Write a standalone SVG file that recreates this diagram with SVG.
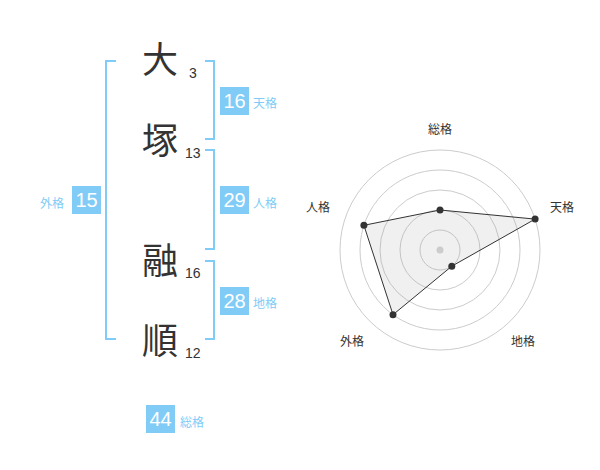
<svg xmlns="http://www.w3.org/2000/svg" width="600" height="470" viewBox="0 0 600 470">
<style>
.ch{font-family:"Noto Sans CJK JP","Noto Sans CJK SC",sans-serif;font-size:36px;fill:#333;text-anchor:middle}
.st{font-family:"Liberation Sans",Arial,sans-serif;font-size:14px;fill:#333}
.br{fill:none;stroke:#80ccf7;stroke-width:2}
.box{fill:#80ccf7}
.num{font-family:"Liberation Sans",Arial,sans-serif;font-size:20px;fill:#fff;text-anchor:middle}
.lb{font-family:"Noto Sans CJK JP","Noto Sans CJK SC",sans-serif;font-size:12px;fill:#80ccf7}
.ring{fill:none;stroke:#ccc;stroke-width:1}
.ax{font-family:"Noto Sans CJK JP","Noto Sans CJK SC",sans-serif;font-size:12px;fill:#333;text-anchor:middle}
.dot{fill:#333}
</style>
<rect width="600" height="470" fill="#fff"/>
<g id="name">
<g id="c1"><text class="ch" x="160" y="73">大</text><text class="st" x="189" y="78">3</text></g>
<g id="c2"><text class="ch" x="160" y="154">塚</text><text class="st" x="185" y="158">13</text></g>
<g id="c3"><text class="ch" x="160" y="274">融</text><text class="st" x="185" y="278">16</text></g>
<g id="c4"><text class="ch" x="160" y="354">順</text><text class="st" x="185" y="358">12</text></g>
</g>
<g id="connectors">
<path class="br" d="M116,61 H106 V339 H116"/>
<path class="br" d="M205,61 H214 V139 H205"/>
<path class="br" d="M205,150 H214 V249 H205"/>
<path class="br" d="M205,261 H214 V339 H205"/>
</g>
<g id="tenkaku"><rect class="box" x="220" y="87" width="29" height="28"/><text class="num" x="234.5" y="108">16</text><text class="lb" x="253" y="108">天格</text></g>
<g id="jinkaku"><rect class="box" x="220" y="186" width="29" height="28"/><text class="num" x="234.5" y="207">29</text><text class="lb" x="253" y="208">人格</text></g>
<g id="chikaku"><rect class="box" x="220" y="287" width="29" height="28"/><text class="num" x="234.5" y="308">28</text><text class="lb" x="253" y="308">地格</text></g>
<g id="gaikaku"><rect class="box" x="72" y="186" width="29" height="28"/><text class="num" x="86.5" y="207">15</text><text class="lb" x="40" y="208">外格</text></g>
<g id="soukaku"><rect class="box" x="146" y="405" width="29" height="28"/><text class="num" x="160.5" y="426">44</text><text class="lb" x="180" y="427">総格</text></g>
<g id="radar">
<circle class="ring" cx="440" cy="250" r="20"/>
<circle class="ring" cx="440" cy="250" r="40"/>
<circle class="ring" cx="440" cy="250" r="60"/>
<circle class="ring" cx="440" cy="250" r="80"/>
<circle class="ring" cx="440" cy="250" r="100"/>
<polygon points="440,210 535.1,219.1 451.8,266.2 393,314.7 363.9,225.3" fill="#999" fill-opacity="0.15" stroke="#333" stroke-width="1"/>
<circle cx="440" cy="250" r="3.5" fill="#ccc"/>
<circle class="dot" cx="440" cy="210" r="3.5"/>
<circle class="dot" cx="535.1" cy="219.1" r="3.5"/>
<circle class="dot" cx="451.8" cy="266.2" r="3.5"/>
<circle class="dot" cx="393" cy="314.7" r="3.5"/>
<circle class="dot" cx="363.9" cy="225.3" r="3.5"/>
<text class="ax" x="440" y="134">総格</text>
<text class="ax" x="562" y="212">天格</text>
<text class="ax" x="523" y="346">地格</text>
<text class="ax" x="352" y="346">外格</text>
<text class="ax" x="318" y="212">人格</text>
</g>
</svg>
